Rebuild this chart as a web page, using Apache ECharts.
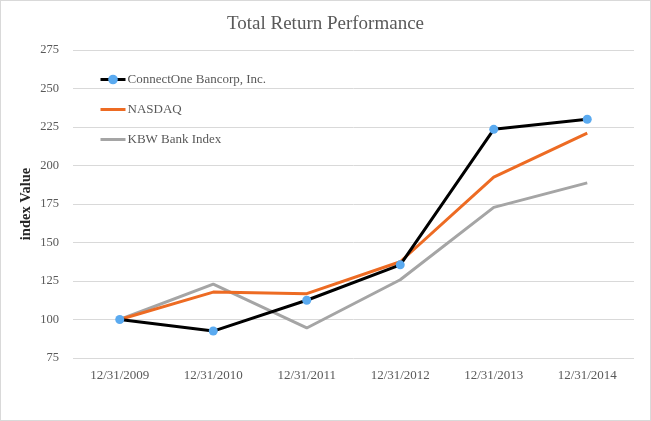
<!DOCTYPE html>
<html><head><meta charset="utf-8">
<script src="https://cdn.jsdelivr.net/npm/echarts@6/dist/echarts.min.js"></script>
<style>html,body{margin:0;padding:0;background:#fff}#c{width:649px;height:419px;border:1px solid #d9d9d9}</style>
</head><body><div id="c"></div>
<script>
var categories = ['12/31/2009','12/31/2010','12/31/2011','12/31/2012','12/31/2013','12/31/2014'];
var connectOne = [100, 92.5, 112.5, 135.5, 223.5, 230];
var nasdaq = [100, 117.8, 116.8, 137.5, 192.5, 221];
var kbw = [100, 123, 94.5, 125.8, 172.8, 188.7];
var seriesNames = ['ConnectOne Bancorp, Inc.', 'NASDAQ', 'KBW Bank Index'];
var yTicks = {min: 75, max: 275, interval: 25};

var font = '"Liberation Serif", "Times New Roman", serif';
var chart = echarts.init(document.getElementById('c'));
chart.setOption({
  animation: false,
  textStyle: {fontFamily: font},
  title: {text: 'Total Return Performance', left: 'center', top: 9,
    textStyle: {fontFamily: font, fontSize: 19, fontWeight: 'normal', color: '#595959'}},
  grid: {left: 72, right: 16, top: 49, bottom: 62},
  legend: {orient: 'vertical', left: 93, top: 67, itemGap: 17, itemWidth: 25, itemHeight: 12,
    textStyle: {fontFamily: font, fontSize: 13, color: '#595959', padding: [0,0,0,-3]},
    data: [
      {name: seriesNames[0], lineStyle: {width: 3}},
      {name: seriesNames[1], itemStyle: {opacity: 0}, lineStyle: {width: 3}},
      {name: seriesNames[2], itemStyle: {opacity: 0}, lineStyle: {width: 3}}
    ]},
  xAxis: {type: 'category', data: categories, boundaryGap: true,
    axisLine: {show: false}, axisTick: {show: false},
    axisLabel: {fontFamily: font, fontSize: 13, color: '#595959', margin: 11}},
  yAxis: {type: 'value', min: yTicks.min, max: yTicks.max, interval: yTicks.interval,
    name: 'index Value', nameLocation: 'middle', nameGap: 39, nameRotate: 90, nameMoveOverlap: false,
    nameTextStyle: {fontFamily: font, fontSize: 14.5, fontWeight: 'bold', color: '#262626'},
    axisLine: {show: false}, axisTick: {show: false},
    axisLabel: {fontFamily: font, fontSize: 12.5, color: '#595959', margin: 14},
    splitLine: {lineStyle: {color: '#d9d9d9', width: 1}}},
  series: [
    {name: seriesNames[2], type: 'line', data: kbw, symbol: 'none', z: 1,
      lineStyle: {color: '#a5a5a5', width: 3}, itemStyle: {color: '#a5a5a5'}},
    {name: seriesNames[1], type: 'line', data: nasdaq, symbol: 'none', z: 2,
      lineStyle: {color: '#ed6b23', width: 3}, itemStyle: {color: '#ed6b23'}},
    {name: seriesNames[0], type: 'line', data: connectOne, symbol: 'circle', symbolSize: 9, z: 3,
      lineStyle: {color: '#000000', width: 3}, itemStyle: {color: '#5aaaf0', borderWidth: 0}}
  ]
});
</script></body></html>
